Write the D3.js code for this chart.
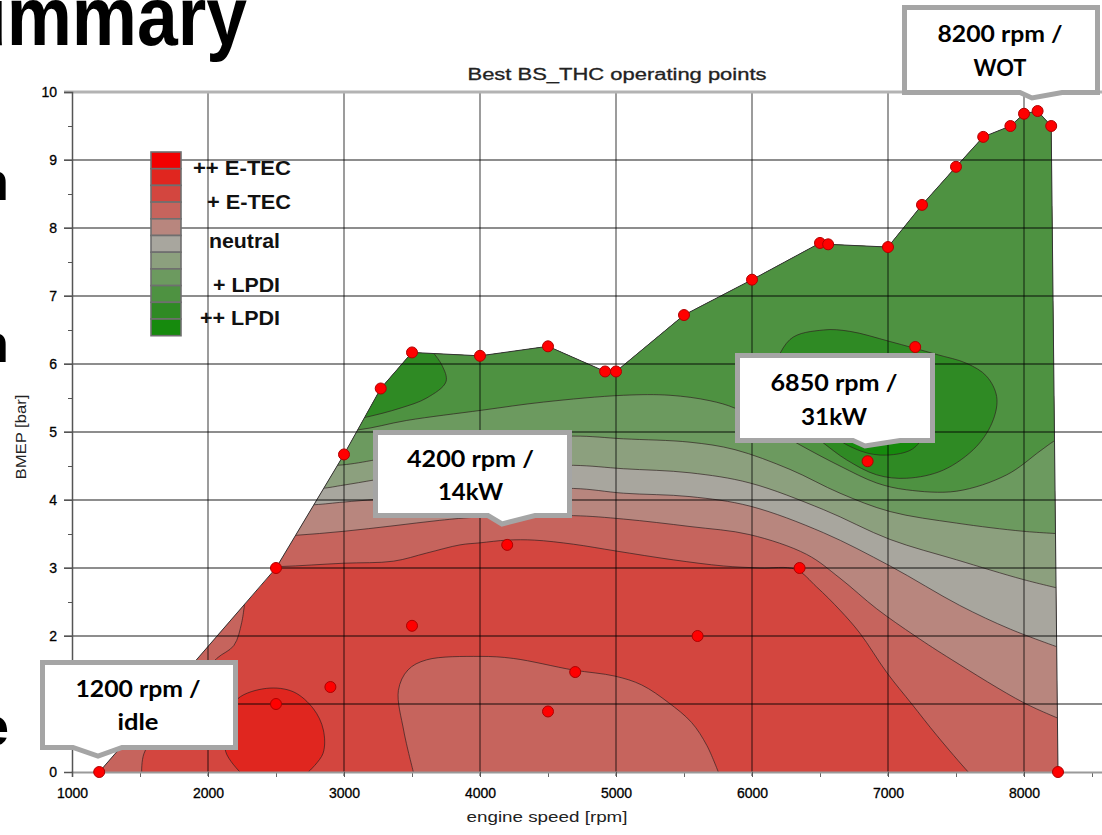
<!DOCTYPE html>
<html lang="en">
<head>
  <meta charset="UTF-8" />
  <title>Best BS_THC operating points</title>
  <script src="https://cdn.jsdelivr.net/npm/d3@7"></script>
  <style>
    html, body { margin: 0; padding: 0; background: #fff; }
    svg { display: block; }
  </style>
</head>
<body>
  <div id="chart"></div>

  <script>
    // ---- data ----
    const rpmTicks  = [1000, 2000, 3000, 4000, 5000, 6000, 7000, 8000];
    const rpmMinor  = [1500, 2500, 3500, 4500, 5500, 6500, 7500, 8500];
    const bmepTicks = [0, 1, 2, 3, 4, 5, 6, 7, 8, 9, 10];
    const bmepMinor = [0.5, 1.5, 2.5, 3.5, 4.5, 5.5, 6.5, 7.5, 8.5, 9.5];

    // operating points (red dots)
    const pointRpm  = [1200, 2500, 2900, 3500, 2500, 3000, 3270, 3500, 4000, 4500, 4920, 5000, 5500, 6000, 6500, 6560,
                       7000, 7250, 7500, 7700, 7900, 8000, 8100, 8200, 8250, 7200, 6850, 4200, 6350, 5600, 4700, 4500];
    const pointBmep = [0, 1.0, 1.25, 2.15, 3.0, 4.67, 5.64, 6.17, 6.12, 6.26, 5.89, 5.89, 6.72, 7.24, 7.78, 7.76,
                       7.72, 8.34, 8.9, 9.34, 9.5, 9.68, 9.72, 9.5, 0, 6.25, 4.57, 3.34, 3.0, 2.0, 1.47, 0.89];

    // outline of the measured map
    const envelopeRpm  = [1200, 2500, 3000, 3270, 3500, 4000, 4500, 4920, 5000, 5500, 6000, 6500, 6560, 7000, 7250, 7500, 7700, 7900, 8000, 8100, 8200, 8250];
    const envelopeBmep = [0, 3.0, 4.67, 5.64, 6.17, 6.12, 6.26, 5.89, 5.89, 6.72, 7.24, 7.78, 7.76, 7.72, 8.34, 8.9, 9.34, 9.5, 9.68, 9.72, 9.5, 0];

    // contour bands, ++ E-TEC (0) ... ++ LPDI (10)
    const legendLabels = ['++ E-TEC', '+ E-TEC', 'neutral', '+ LPDI', '++ LPDI'];
    const levelColors = ['#f20000', '#e0261f', '#d3463f', '#c6645d', '#b8867e', '#a8a69e',
                         '#8ca07e', '#6c9a5f', '#4e9241', '#2f8a24', '#168a0d'];

    // contour boundaries [rpm, bmep]
    const blobLevel1 = [[2235, 0], [2130, 0.3], [2150, 0.8], [2220, 1.08], [2431, 1.23], [2627, 1.18],
                        [2775, 0.93], [2848, 0.62], [2845, 0.27], [2738, 0]];
    const idleLevel3 = [[1512, 0], [1529, 0.27], [1700, 0.8], [1900, 1.3], [2064, 1.67], [2190, 1.86],
                        [2248, 2.2], [2275, 2.6]];
    const lobeLevel3 = [[3510, 0], [3440, 0.6], [3400, 1.2], [3470, 1.5], [3608, 1.65], [4000, 1.70],
                        [4245, 1.67], [4686, 1.5], [4992, 1.41], [5189, 1.28], [5386, 1.02], [5555, 0.73],
                        [5668, 0.39], [5752, 0]];
    const edge3 = [[2000, 3.0], [2520, 3.02], [2995, 3.07], [3363, 3.1], [3608, 3.22], [3853, 3.34],
                   [4000, 3.37], [4200, 3.41], [4400, 3.41], [4686, 3.35], [5000, 3.25], [5421, 3.12],
                   [5789, 3.03], [6059, 3.0], [6320, 2.98], [6476, 2.72], [6647, 2.38], [6794, 2.04],
                   [6992, 1.46], [7175, 1.0], [7358, 0.54], [7590, 0], [7640, -0.1], [8400, -0.3]];
    const edge4 = [[2300, 3.45], [2640, 3.48], [3000, 3.54], [3360, 3.62], [3700, 3.7], [4000, 3.75],
                   [4686, 3.77], [5054, 3.72], [5544, 3.61], [5985, 3.49], [6402, 3.2], [6647, 2.85],
                   [6917, 2.4], [7200, 2.0], [7470, 1.65], [7997, 1.02], [8300, 0.75]];
    const edge5 = [[2300, 3.9], [2780, 3.93], [3000, 3.97], [3500, 4.05], [4000, 4.12], [4686, 4.17],
                   [5054, 4.1], [5544, 4.05], [5985, 3.91], [6524, 3.52], [7015, 3.03], [7527, 2.45],
                   [7900, 2.1], [8300, 1.8]];
    const edge6 = [[2300, 4.15], [2830, 4.17], [3000, 4.22], [3500, 4.38], [4000, 4.47], [4686, 4.51],
                   [5054, 4.46], [5544, 4.4], [5985, 4.25], [6524, 3.86], [7015, 3.42], [7505, 3.12],
                   [7995, 2.83], [8300, 2.68]];
    const edge7 = [[2300, 4.5], [2950, 4.51], [3200, 4.58], [3600, 4.75], [4000, 4.86], [4686, 4.94],
                   [5054, 4.9], [5544, 4.85], [5875, 4.74], [6279, 4.45], [6647, 4.1], [7015, 3.83],
                   [7505, 3.66], [7995, 3.54], [8300, 3.5]];
    const edge8 = [[2600, 5.0], [3097, 5.03], [3461, 5.17], [4012, 5.32], [4466, 5.44], [5054, 5.54],
                   [5397, 5.54], [5691, 5.46], [5875, 5.35], [6100, 5.1], [6353, 4.81], [6647, 4.5],
                   [6917, 4.25], [7137, 4.15], [7505, 4.13], [7873, 4.37], [8118, 4.72], [8216, 4.86], [8300, 4.95]];
    const blobLevel9a = [[3050, 5.18], [3167, 5.22], [3412, 5.35], [3608, 5.5], [3750, 5.74], [3718, 5.99], [3600, 6.3]];
    const blobLevel9b = [[6150, 5.72], [6279, 6.36], [6524, 6.5], [6720, 6.48], [7015, 6.33], [7358, 6.14],
                         [7578, 6.01], [7725, 5.82], [7799, 5.52], [7774, 5.18], [7652, 4.79], [7407, 4.44],
                         [7137, 4.32], [6917, 4.37], [6696, 4.59], [6524, 4.84], [6279, 5.23]];
    const blobLevel10 = [[6620, 4.95], [6750, 5.2], [6950, 5.3], [7150, 5.2], [7250, 4.95], [7180, 4.75],
                         [6990, 4.66], [6800, 4.72]];

    const calloutLines = [['8200 rpm /', 'WOT'], ['6850 rpm /', '31kW'], ['4200 rpm /', '14kW'], ['1200 rpm /', 'idle']];

    // ---- layout ----
    const W = 1102, H = 835;
    const svg = d3.select('#chart').append('svg')
      .attr('width', W).attr('height', H)
      .style('font-family', '"Liberation Sans", Arial, sans-serif');

    const x = d3.scaleLinear().domain([1000, 8600]).range([72, 1105.6]);
    const y = d3.scaleLinear().domain([0, 10]).range([772, 92]);

    const env = envelopeRpm.map((r, i) => [r, envelopeBmep[i]]);
    const straight = d3.line().x(d => x(d[0])).y(d => y(d[1]));
    const smooth = d3.line().x(d => x(d[0])).y(d => y(d[1])).curve(d3.curveCatmullRom.alpha(0.5));
    const loop = d3.line().x(d => x(d[0])).y(d => y(d[1])).curve(d3.curveCatmullRomClosed.alpha(0.5));

    // close a boundary line outside the map so the clip keeps only the band
    function regionPath(pts, close) {
      if (close === 'loop') return loop(pts);
      const f = pts[0], l = pts[pts.length - 1];
      let c;
      if (close === 'top') c = [[l[0], 11], [f[0], 11]];
      else if (close === 'bottom') c = [[l[0], -1], [f[0], -1]];
      else c = [[900, l[1]], [900, -1], [f[0], -1]];
      return smooth(pts) + c.map(p => 'L' + x(p[0]) + ',' + y(p[1])).join('') + 'Z';
    }

    svg.append('clipPath').attr('id', 'envClip')
      .append('path').attr('d', straight(env) + 'Z');

    const map = svg.append('g').attr('clip-path', 'url(#envClip)');
    map.append('path').attr('d', straight(env) + 'Z').attr('fill', levelColors[2]);

    const regions = [
      [1, blobLevel1, 'bottom'], [3, idleLevel3, 'left'], [3, lobeLevel3, 'bottom'], [3, edge3, 'top'],
      [4, edge4, 'top'], [5, edge5, 'top'], [6, edge6, 'top'], [7, edge7, 'top'], [8, edge8, 'top'],
      [9, blobLevel9a, 'top'], [9, blobLevel9b, 'loop'], [10, blobLevel10, 'loop']
    ];
    map.selectAll('path.band')
      .data(regions)
      .join('path')
        .attr('class', 'band')
        .attr('d', d => regionPath(d[1], d[2]))
        .attr('fill', d => levelColors[d[0]])
        .attr('stroke', '#2e1f1f')
        .attr('stroke-opacity', 0.75)
        .attr('stroke-width', 0.9);

    // outline of map
    svg.append('path')
      .attr('d', straight(env))
      .attr('fill', 'none').attr('stroke', '#333').attr('stroke-width', 1);

    // grid
    const grid = svg.append('g').attr('stroke', '#000').attr('stroke-opacity', 0.6).attr('stroke-width', 1.3);
    grid.selectAll('line.v')
      .data(rpmTicks.slice(1))
      .join('line')
        .attr('x1', d => x(d)).attr('x2', d => x(d))
        .attr('y1', y(10)).attr('y2', y(0) + 4);
    grid.selectAll('line.h')
      .data(bmepTicks.slice(1, -1))
      .join('line')
        .attr('x1', x(1000) - 8).attr('x2', W)
        .attr('y1', d => y(d)).attr('y2', d => y(d));
    svg.append('line')
      .attr('x1', x(1000) - 8).attr('x2', W)
      .attr('y1', y(10)).attr('y2', y(10))
      .attr('stroke', '#b3b3b3').attr('stroke-width', 3);

    // x axis
    svg.append('g')
      .attr('transform', 'translate(0,' + y(0) + ')')
      .call(d3.axisBottom(x).tickValues(rpmMinor).tickSize(5).tickFormat(''))
      .call(g => g.select('.domain').remove())
      .selectAll('line').attr('stroke', '#666');
    const xAxis = svg.append('g')
      .attr('transform', 'translate(0,' + y(0) + ')')
      .call(d3.axisBottom(x).tickValues(rpmTicks).tickSize(5).tickPadding(11).tickFormat(d3.format('d')));
    xAxis.select('.domain').attr('stroke', '#9a9a9a').attr('stroke-width', 2);
    xAxis.selectAll('line').attr('stroke', '#555');
    xAxis.selectAll('text').attr('font-size', 14).attr('fill', '#000')
      .attr('stroke', '#000').attr('stroke-width', 0.3)
      .attr('font-family', '"Liberation Sans", Arial, sans-serif');

    // y axis
    svg.append('g')
      .attr('transform', 'translate(' + x(1000) + ',0)')
      .call(d3.axisLeft(y).tickValues(bmepMinor).tickSize(4).tickFormat(''))
      .call(g => g.select('.domain').remove())
      .selectAll('line').attr('stroke', '#555');
    const yAxis = svg.append('g')
      .attr('transform', 'translate(' + x(1000) + ',0)')
      .call(d3.axisLeft(y).tickValues(bmepTicks).tickSize(8).tickPadding(7));
    yAxis.select('.domain').attr('stroke', '#555').attr('stroke-width', 1.5);
    yAxis.selectAll('line').attr('stroke', '#555');
    yAxis.selectAll('text').attr('font-size', 14).attr('fill', '#000')
      .attr('stroke', '#000').attr('stroke-width', 0.3)
      .attr('font-family', '"Liberation Sans", Arial, sans-serif');

    // operating points
    svg.selectAll('circle.pt')
      .data(pointRpm.map((r, i) => [r, pointBmep[i]]))
      .join('circle')
        .attr('class', 'pt')
        .attr('cx', d => x(d[0]))
        .attr('cy', d => y(d[1]))
        .attr('r', 5.5)
        .attr('fill', '#ff0000')
        .attr('stroke', '#b00000')
        .attr('stroke-width', 1);

    // titles
    svg.append('text')
      .attr('x', 617).attr('y', 80)
      .attr('text-anchor', 'middle').attr('font-size', 16).attr('fill', '#222')
      .attr('stroke', '#222').attr('stroke-width', 0.3)
      .attr('textLength', 299).attr('lengthAdjust', 'spacingAndGlyphs')
      .text('Best BS_THC operating points');
    svg.append('text')
      .attr('x', 547).attr('y', 822)
      .attr('text-anchor', 'middle').attr('font-size', 15).attr('fill', '#222')
      .attr('textLength', 161).attr('lengthAdjust', 'spacingAndGlyphs')
      .text('engine speed [rpm]');
    svg.append('text')
      .attr('transform', 'translate(26,437) rotate(-90)')
      .attr('text-anchor', 'middle').attr('font-size', 14).attr('fill', '#222')
      .attr('textLength', 85).attr('lengthAdjust', 'spacingAndGlyphs')
      .text('BMEP [bar]');

    // legend
    const legend = svg.append('g');
    legend.selectAll('rect')
      .data(levelColors)
      .join('rect')
        .attr('x', 151).attr('y', (d, i) => 152 + i * 16.7)
        .attr('width', 30).attr('height', 16.7)
        .attr('fill', d => d)
        .attr('stroke', '#6f6f6f').attr('stroke-width', 1.6);
    const legendX = [193, 207, 209, 213, 200];
    const legendY = [175, 209, 248, 292, 325];
    const legendW = [98, 84, 71, 67, 80];
    legend.selectAll('text')
      .data(legendLabels)
      .join('text')
        .attr('x', (d, i) => legendX[i]).attr('y', (d, i) => legendY[i])
        .attr('font-size', 20).attr('font-weight', 'bold').attr('fill', '#111')
        .attr('textLength', (d, i) => legendW[i]).attr('lengthAdjust', 'spacingAndGlyphs')
        .text(d => d);

    // callouts
    const boxes = [
      {x0: 904.5, x1: 1097.5, y0: 7.5, y1: 92.5, n0: 1020, tx: 1032, ty: 98, n1: 1062, cx: 1000, b1: 42, b2: 76, w1: 125, w2: 53},
      {x0: 737.5, x1: 932.5, y0: 355.5, y1: 440.5, n0: 853, tx: 865, ty: 446, n1: 900, cx: 834, b1: 391, b2: 425, w1: 127, w2: 66},
      {x0: 375.5, x1: 569.5, y0: 432.5, y1: 515.5, n0: 488, tx: 502, ty: 524, n1: 535, cx: 470.5, b1: 467, b2: 500, w1: 127, w2: 65},
      {x0: 42.5, x1: 235.5, y0: 662.5, y1: 747.5, n0: 73, tx: 98, ty: 756, n1: 122, cx: 138, b1: 697, b2: 730, w1: 125, w2: 41}
    ];
    const call = svg.selectAll('g.callout')
      .data(calloutLines)
      .join('g').attr('class', 'callout');
    call.append('path')
      .attr('d', (d, i) => {
        const b = boxes[i];
        return 'M' + b.x0 + ',' + b.y0 + 'H' + b.x1 + 'V' + b.y1 + 'H' + b.n1 +
               'L' + b.tx + ',' + b.ty + 'L' + b.n0 + ',' + b.y1 + 'H' + b.x0 + 'Z';
      })
      .attr('fill', '#fff').attr('stroke', '#a5a5a5').attr('stroke-width', 5);
    call.each(function(lines, i) {
      const b = boxes[i];
      const g = d3.select(this);
      lines.forEach((t, k) => {
        g.append('text')
          .attr('x', b.cx).attr('y', k === 0 ? b.b1 : b.b2)
          .attr('text-anchor', 'middle')
          .attr('font-family', 'Lato, "Open Sans", sans-serif')
          .attr('font-weight', 'bold').attr('font-size', 22).attr('fill', '#000')
          .attr('textLength', k === 0 ? b.w1 : b.w2).attr('lengthAdjust', 'spacingAndGlyphs')
          .text(t);
      });
    });

    // slide text around the chart (cut off by the crop, as in the source)
    svg.append('text')
      .attr('x', -87).attr('y', 45)
      .attr('font-size', 83).attr('font-weight', 'bold').attr('fill', '#000')
      .attr('textLength', 334).attr('lengthAdjust', 'spacingAndGlyphs')
      .text('Summary');
    [['n', 200], ['n', 362], ['e', 745]].forEach(c => {
      svg.append('text')
        .attr('x', 9).attr('y', c[1])
        .attr('text-anchor', 'end')
        .attr('font-size', 54).attr('font-weight', 'bold').attr('fill', '#000')
        .text(c[0]);
    });
  </script>
</body>
</html>
